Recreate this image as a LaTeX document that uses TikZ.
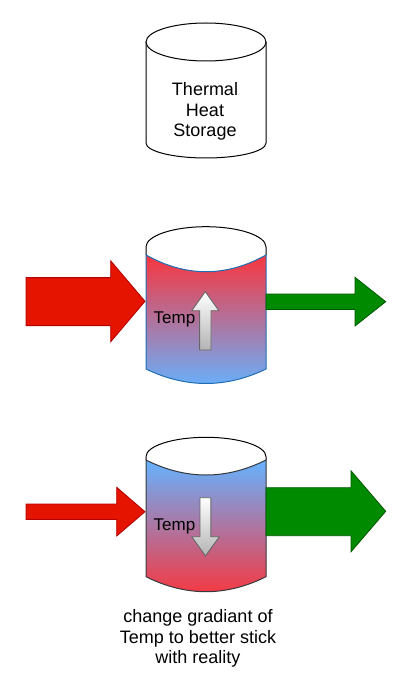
\documentclass[tikz,border=0pt]{standalone}
\usepackage{fontspec}
\setmainfont{Liberation Sans}
\definecolor{arrred}{HTML}{E51400}
\definecolor{arrredline}{HTML}{B20000}
\definecolor{arrgreen}{HTML}{008A00}
\definecolor{arrgreenline}{HTML}{005700}
\definecolor{hotred}{HTML}{F8363E}
\definecolor{coolblue}{HTML}{66B2FF}
\definecolor{midline}{HTML}{1F6EB4}
\definecolor{darkline}{HTML}{36393D}
\definecolor{tempgray}{HTML}{B3B3B3}
\definecolor{templine}{HTML}{666666}
\tikzset{
  capline/.style={draw=black, line width=1pt},
  redarrow/.style={fill=arrred, draw=arrredline, line width=0.8pt, line join=miter},
  greenarrow/.style={fill=arrgreen, draw=arrgreenline, line width=0.8pt, line join=miter},
  temparrow/.style={top color=white, bottom color=tempgray, draw=templine, line width=0.9pt, line join=miter},
  lbl/.style={font=\fontsize{18}{20.7}\selectfont, align=center, inner sep=0pt, text=black},
  templbl/.style={font=\fontsize{17}{20}\selectfont, inner sep=0pt, text=black},
}
\begin{document}
\begin{tikzpicture}[x=1pt,y=-1pt]
\useasboundingbox (0,0) rectangle (403,676);

% ---------- top cylinder ----------
\draw[capline, fill=white] (146,42) -- (146,143)
  .. controls (146,151.3) and (172.86,158) .. (206,158)
  .. controls (239.14,158) and (266,151.3) .. (266,143) -- (266,42);
\draw[capline, fill=white] (206,42) ellipse [x radius=60, y radius=19];
\node[lbl] (storage) at (205,111.5) {Thermal\\Heat\\Storage};

% ---------- middle cylinder ----------
\fill[white] (146,255) -- (146,247)
  .. controls (146,235.8) and (172.86,226.7) .. (206,226.7)
  .. controls (239.14,226.7) and (266,235.8) .. (266,247) -- (266,255)
  .. controls (226,277.3) and (186,277.3) .. (146,255) -- cycle;
\draw[capline] (146,255) -- (146,247)
  .. controls (146,235.8) and (172.86,226.7) .. (206,226.7)
  .. controls (239.14,226.7) and (266,235.8) .. (266,247) -- (266,255);
\draw[draw=midline, line width=1pt, top color=hotred, bottom color=coolblue]
  (146,255) .. controls (186,277.3) and (226,277.3) .. (266,255)
  -- (266,369) .. controls (226,388.3) and (186,388.3) .. (146,369) -- cycle;
\draw[temparrow] (199.6,350) -- (199.6,310.7) -- (191.7,310.7) -- (205.3,291.7)
  -- (218.9,310.7) -- (211,310.7) -- (211,350) -- cycle;
\node[templbl] (tempup) at (174.5,319.5) {Temp};

% middle arrows
\draw[redarrow] (26,277.6) -- (110.7,277.6) -- (110.7,260.8) -- (145,301.3)
  -- (110.7,341.8) -- (110.7,325.6) -- (26,325.6) -- cycle;
\draw[greenarrow] (266,294) -- (355,294) -- (355,277.3) -- (385.7,301.7)
  -- (355,326) -- (355,309.4) -- (266,309.4) -- cycle;

% ---------- bottom cylinder ----------
\fill[white] (146,460) -- (146,456.7)
  .. controls (146,446) and (172.86,437.3) .. (206,437.3)
  .. controls (239.14,437.3) and (266,446) .. (266,456.7) -- (266,460)
  .. controls (226,480) and (186,480) .. (146,460) -- cycle;
\draw[capline] (146,460) -- (146,456.7)
  .. controls (146,446) and (172.86,437.3) .. (206,437.3)
  .. controls (239.14,437.3) and (266,446) .. (266,456.7) -- (266,460);
\draw[draw=darkline, line width=1pt, top color=coolblue, bottom color=hotred]
  (146,460) .. controls (186,480) and (226,480) .. (266,460)
  -- (266,576.7) .. controls (226,596.7) and (186,596.7) .. (146,576.7) -- cycle;
\draw[temparrow] (200,497.7) -- (210.8,497.7) -- (210.8,536.7) -- (219.3,536.7)
  -- (205.5,556) -- (191.7,536.7) -- (200,536.7) -- cycle;
\node[templbl] (tempdown) at (174.5,526.7) {Temp};

% bottom arrows
\draw[redarrow] (26,504) -- (116.7,504) -- (116.7,487.3) -- (145,511.7)
  -- (116.7,536) -- (116.7,519.4) -- (26,519.4) -- cycle;
\draw[greenarrow] (266,487.7) -- (351,487.7) -- (351,470.8) -- (385.7,511.3)
  -- (351,551.8) -- (351,535.7) -- (266,535.7) -- cycle;

\node[lbl] (note) at (198,638.5) {change gradiant of\\Temp to better stick\\with reality};
\end{tikzpicture}
\end{document}
